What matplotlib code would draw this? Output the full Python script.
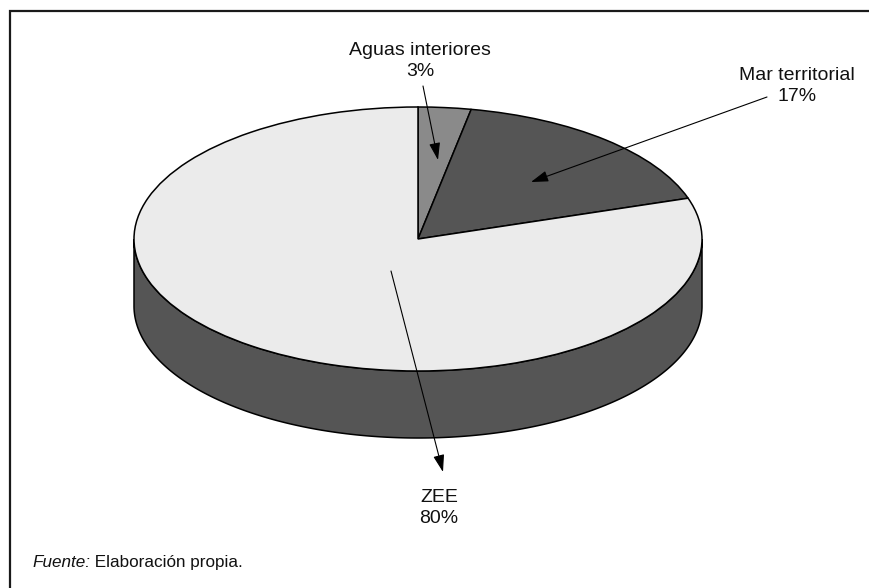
import matplotlib.pyplot as plt
import numpy as np

W, H = 869, 588

categories = ["Aguas interiores", "Mar territorial", "ZEE"]
shares = [3, 17, 80]
slice_colors = ["#8a8a8a", "#555555", "#ebebeb"]
side_color = "#555555"

# label anchor (text centre) and arrow tail/tip, in pixel coordinates
label_xy = [(420, 61), (797, 86), (439, 508)]
arrow_tail = [(423, 86), (767, 97), (391, 271)]
arrow_tip = [(438, 160), (531, 182), (443, 472)]

# pie geometry in pixels: centre, semi-axes and thickness of the disc
CX, CY = 418, 239
RX, RY = 284, 132
DEPTH = 67

FONT = "Liberation Sans"

fig = plt.figure(figsize=(W / 100, H / 100), dpi=100)
fig.patch.set_facecolor("white")

# --- the disc: its own axes with non-equal aspect turns the pie into an ellipse
d = DEPTH / RY
left = (CX - RX) / W
bottom = 1 - (CY + RY + DEPTH) / H
ax_pie = fig.add_axes([left, bottom, 2 * RX / W, (2 * RY + DEPTH) / H])
ax_pie.set_axis_off()

t = np.linspace(np.pi, 2 * np.pi, 300)
side_x = np.concatenate([np.cos(t), np.cos(t[::-1])])
side_y = np.concatenate([np.sin(t), np.sin(t[::-1]) - d])
ax_pie.fill(side_x, side_y, facecolor=side_color, edgecolor="black",
            linewidth=1.1, clip_on=False, zorder=1)

wedges, _ = ax_pie.pie(
    shares,
    colors=slice_colors,
    startangle=90,
    counterclock=False,
    radius=1,
    center=(0, 0),
    wedgeprops=dict(edgecolor="black", linewidth=1.1),
)
for w in wedges:
    w.set_clip_on(False)
    w.set_zorder(2)
ax_pie.set_aspect("auto")
ax_pie.set_xlim(-1, 1)
ax_pie.set_ylim(-1 - d, 1)

# --- overlay in pixel coordinates for frame, labels and arrows
ax = fig.add_axes([0, 0, 1, 1], zorder=5)
ax.set_xlim(0, W)
ax.set_ylim(H, 0)
ax.set_axis_off()
ax.patch.set_alpha(0)

ax.plot([10, 10, W + 5], [H + 5, 11, 11], color="#1a1a1a", lw=1.6,
        solid_joinstyle="miter")

for name, share, (lx, ly), tail, tip in zip(categories, shares, label_xy,
                                             arrow_tail, arrow_tip):
    ax.text(lx, ly, f"{name}\n{share}%", ha="center", va="center",
            fontsize=14, family=FONT, linespacing=1.3, color="#111111")
    ax.annotate(
        "", xy=tip, xytext=tail,
        arrowprops=dict(arrowstyle="-|>,head_length=0.75,head_width=0.24",
                        mutation_scale=14, color="black", lw=0.8,
                        shrinkA=0, shrinkB=0),
    )

# source line: italic lead-in, then plain text on the same baseline
src = ax.text(32, 567, "Fuente:", ha="left", va="baseline", fontsize=12.3,
              family=FONT, style="italic", color="#111111")
fig.canvas.draw()
bb = src.get_window_extent()
x_end = ax.transData.inverted().transform((bb.x1, bb.y0))[0]
ax.text(x_end, 567, " Elaboración propia.", ha="left", va="baseline",
        fontsize=12.3, family=FONT, color="#111111")

fig.savefig("out.png", dpi=100, facecolor="white")
